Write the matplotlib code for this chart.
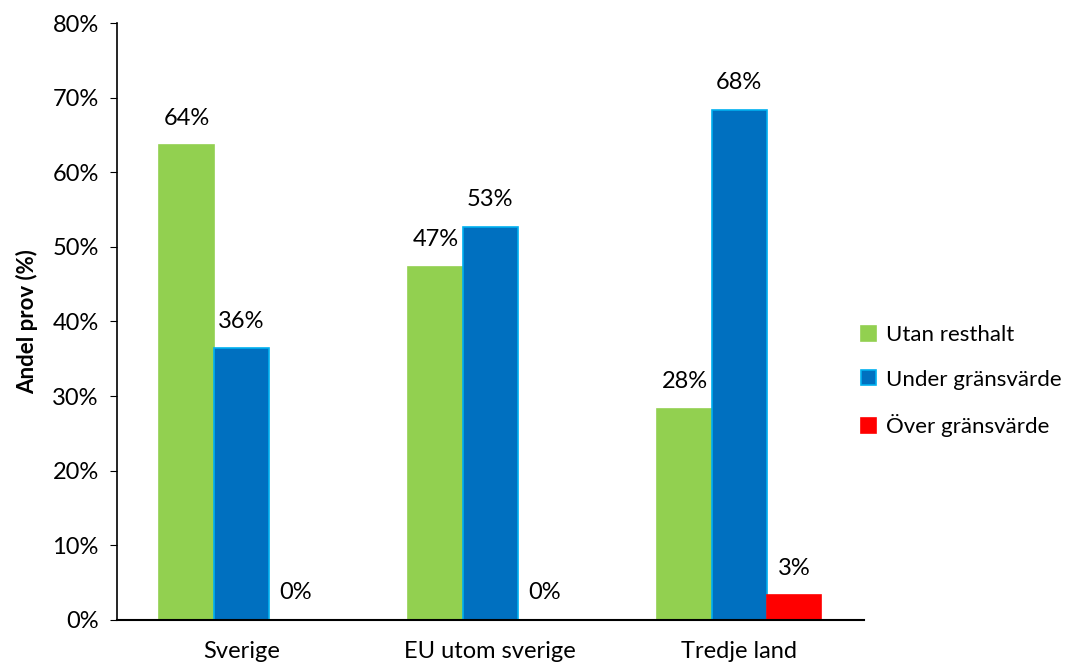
import matplotlib.pyplot as plt
import numpy as np

plt.rcParams['font.family'] = ['Lato', 'DejaVu Sans']

categories = ['Sverige', 'EU utom sverige', 'Tredje land']
series_names = ['Utan resthalt', 'Under gränsvärde', 'Över gränsvärde']
utan = [63.6, 47.3, 28.3]
under = [36.4, 52.7, 68.4]
over = [0.0, 0.0, 3.3]
colors = ['#92D050', '#0070C0', '#FF0000']
edges = ['#92D050', '#00B0F0', '#FF0000']

fig = plt.figure(figsize=(10.81, 6.67), dpi=100)
ax = fig.add_axes([0.108, 0.0705, 0.691, 0.895])

x = np.arange(len(categories))
w = 0.22
for i, (vals, name) in enumerate(zip([utan, under, over], series_names)):
    pos = x + (i - 1) * w
    ax.bar(pos, vals, w, color=colors[i], edgecolor=edges[i], linewidth=1.2, label=name)
    for p, v in zip(pos, vals):
        ax.annotate(f'{v:.0f}%', (p, v), xytext=(0, 12), textcoords='offset points',
                    ha='center', va='bottom', fontsize=17)

ax.set_xlim(-0.5, 2.5)
ax.set_ylim(0, 80)
ax.set_yticks(range(0, 81, 10))
ax.set_yticklabels([f'{t}%' for t in range(0, 81, 10)], fontsize=17)
ax.set_xticks(x)
ax.set_xticklabels(categories, fontsize=17)
ax.tick_params(axis='x', length=0, pad=15)
ax.tick_params(axis='y', length=5, direction='out', pad=8)
for s in ['top', 'right']:
    ax.spines[s].set_visible(False)
ax.spines['left'].set_linewidth(1.2)
ax.spines['bottom'].set_linewidth(1.5)
ax.set_ylabel('Andel prov (%)', fontsize=16, fontweight='bold', labelpad=10)

ax.legend(loc='center left', bbox_to_anchor=(0.985, 0.40), frameon=False, fontsize=16,
          borderaxespad=0, handlelength=0.65, handleheight=0.65, handletextpad=0.45,
          labelspacing=1.1)

fig.savefig('out.png', dpi=100)
